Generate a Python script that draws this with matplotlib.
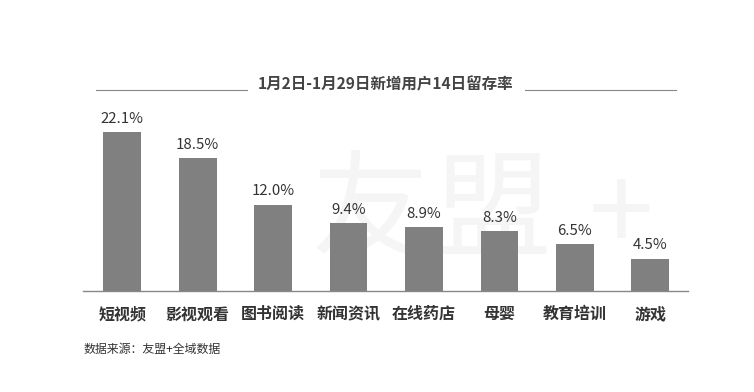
import matplotlib.pyplot as plt

plt.rcParams['font.family'] = ['Noto Sans CJK SC', 'DejaVu Sans']

categories = ['短视频', '影视观看', '图书阅读', '新闻资讯', '在线药店', '母婴', '教育培训', '游戏']
values = [22.1, 18.5, 12.0, 9.4, 8.9, 8.3, 6.5, 4.5]
title = '1月2日-1月29日新增用户14日留存率'
source = '数据来源：友盟+全域数据'

W, H = 754, 392
fig = plt.figure(figsize=(W / 100, H / 100), dpi=100)
ax = fig.add_axes([83 / W, 1 - 291 / H, (688 - 83) / W, (291 - 70) / H])

# faint watermark, behind the bars
for ch, cx, cy, fw in [('友', 370, 215, 'light'), ('盟', 492, 215, 'light'), ('+', 621, 219, 'normal')]:
    ax.text(cx / W, 1 - cy / H, ch, transform=fig.transFigure, fontsize=84,
            color='#f5f5f5', ha='center', va='center', fontweight=fw, zorder=0)

x = range(len(categories))
ax.bar(x, values, width=0.5, color='#808080', zorder=2)
for i, v in zip(x, values):
    ax.text(i, v + 0.9, f'{v:.1f}%', ha='center', va='bottom', fontsize=10.8,
            color='#333333', zorder=3)

ax.set_xlim(-0.52, 7.5)
ax.set_ylim(0, 221 / 7.19)
ax.set_xticks(list(x))
ax.set_xticklabels(categories, fontsize=11.5, color='#333333', fontweight='bold')
ax.tick_params(axis='x', length=0, pad=11)
ax.set_yticks([])
for s in ['top', 'left', 'right']:
    ax.spines[s].set_visible(False)
ax.spines['bottom'].set_color('#888888')
ax.spines['bottom'].set_linewidth(1)
ax.spines['bottom'].set_zorder(3)
ax.patch.set_alpha(0)

# title with side rules
fig.text(386 / W, 1 - 84 / H, title, ha='center', va='center', fontsize=11.2,
         fontweight='bold', color='#444444')
fig.add_artist(plt.Line2D([96 / W, 247 / W], [1 - 90 / H] * 2, color='#888888', lw=0.8))
fig.add_artist(plt.Line2D([525 / W, 676 / W], [1 - 90 / H] * 2, color='#888888', lw=0.8))

fig.text(83 / W, 1 - 350 / H, source, ha='left', va='center', fontsize=8.6, color='#333333')

plt.savefig('out.png', dpi=100)
